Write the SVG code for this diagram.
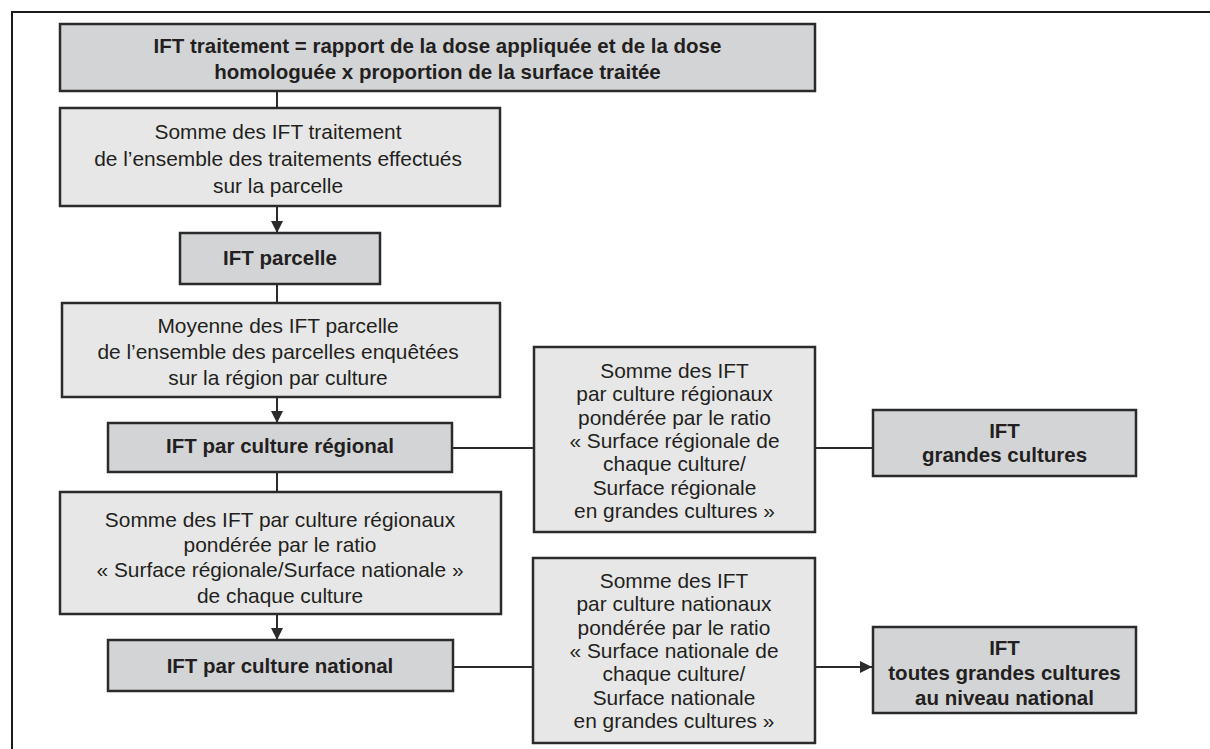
<svg xmlns="http://www.w3.org/2000/svg" width="1210" height="749" viewBox="0 0 1210 749">
  <style>
    .dark { fill: #d3d4d6; stroke: #2b2b2b; stroke-width: 2.5; }
    .light { fill: #e7e7e7; stroke: #2b2b2b; stroke-width: 2.5; }
    .t { font-family: "Liberation Sans", Arial, sans-serif; font-size: 20.9px; fill: #231f20; text-anchor: middle; }
    .b { font-weight: bold; font-size: 20.5px; }
    .link { stroke: #2b2b2b; stroke-width: 2; fill: none; }
    .frame { stroke: #1a1a1a; stroke-width: 2; fill: none; }
  </style>
  <defs>
    <marker id="arrow" viewBox="0 0 10 10" refX="10" refY="5" markerWidth="6" markerHeight="6" markerUnits="strokeWidth" orient="auto">
      <path d="M0,0 L10,5 L0,10 Z" fill="#2b2b2b"/>
    </marker>
  </defs>

  <rect width="1210" height="749" fill="#ffffff"/>
  <!-- open frame: top and left edges only -->
  <path class="frame" d="M12,749 L12,12 L1210,12"/>

  <g id="connectors">
    <line class="link" x1="277" y1="91" x2="277" y2="108"/>
    <line class="link" x1="277" y1="206" x2="277" y2="233" marker-end="url(#arrow)"/>
    <line class="link" x1="277" y1="284" x2="277" y2="303"/>
    <line class="link" x1="277" y1="397" x2="277" y2="423" marker-end="url(#arrow)"/>
    <line class="link" x1="277" y1="472" x2="277" y2="492"/>
    <line class="link" x1="277" y1="614" x2="277" y2="640" marker-end="url(#arrow)"/>
    <line class="link" x1="452" y1="448" x2="534" y2="448"/>
    <line class="link" x1="815" y1="448" x2="873" y2="448"/>
    <line class="link" x1="453" y1="667" x2="533" y2="667"/>
    <line class="link" x1="815" y1="667" x2="872" y2="667" marker-end="url(#arrow)"/>
  </g>

  <g id="ift-traitement">
    <rect class="dark" x="60" y="24" width="755" height="67"/>
    <text class="t b" x="437.5" y="53">IFT traitement = rapport de la dose appliquée et de la dose</text>
    <text class="t b" x="437.5" y="79">homologuée x proportion de la surface traitée</text>
  </g>

  <g id="somme-traitements">
    <rect class="light" x="60" y="108" width="440" height="98"/>
    <text class="t" x="278" y="139">Somme des IFT traitement</text>
    <text class="t" x="278" y="166">de l’ensemble des traitements effectués</text>
    <text class="t" x="278" y="193">sur la parcelle</text>
  </g>

  <g id="ift-parcelle">
    <rect class="dark" x="180" y="233" width="200" height="51"/>
    <text class="t b" x="280" y="265">IFT parcelle</text>
  </g>

  <g id="moyenne-parcelles">
    <rect class="light" x="62" y="303" width="438" height="94"/>
    <text class="t" x="278" y="333">Moyenne des IFT parcelle</text>
    <text class="t" x="278" y="359">de l’ensemble des parcelles enquêtées</text>
    <text class="t" x="278" y="385">sur la région par culture</text>
  </g>

  <g id="ift-culture-regional">
    <rect class="dark" x="108" y="423" width="344" height="49"/>
    <text class="t b" x="280" y="453">IFT par culture régional</text>
  </g>

  <g id="somme-regionaux-national">
    <rect class="light" x="60" y="492" width="441" height="122"/>
    <text class="t" x="280" y="527">Somme des IFT par culture régionaux</text>
    <text class="t" x="280" y="552">pondérée par le ratio</text>
    <text class="t" x="280" y="577">« Surface régionale/Surface nationale »</text>
    <text class="t" x="280" y="603">de chaque culture</text>
  </g>

  <g id="ift-culture-national">
    <rect class="dark" x="108" y="640" width="345" height="51"/>
    <text class="t b" x="280" y="673">IFT par culture national</text>
  </g>

  <g id="ponderation-regionale">
    <rect class="light" x="534" y="347" width="281" height="185"/>
    <text class="t" x="674.5" y="378">Somme des IFT</text>
    <text class="t" x="674.5" y="401.3">par culture régionaux</text>
    <text class="t" x="674.5" y="424.6">pondérée par le ratio</text>
    <text class="t" x="674.5" y="447.9">« Surface régionale de</text>
    <text class="t" x="674.5" y="471.2">chaque culture/</text>
    <text class="t" x="674.5" y="494.5">Surface régionale</text>
    <text class="t" x="674.5" y="517.8">en grandes cultures »</text>
  </g>

  <g id="ift-grandes-cultures">
    <rect class="dark" x="873" y="410" width="263" height="66"/>
    <text class="t b" x="1004.5" y="438">IFT</text>
    <text class="t b" x="1004.5" y="462">grandes cultures</text>
  </g>

  <g id="ponderation-nationale">
    <rect class="light" x="533" y="558" width="282" height="185"/>
    <text class="t" x="674" y="588">Somme des IFT</text>
    <text class="t" x="674" y="611.3">par culture nationaux</text>
    <text class="t" x="674" y="634.6">pondérée par le ratio</text>
    <text class="t" x="674" y="657.9">« Surface nationale de</text>
    <text class="t" x="674" y="681.2">chaque culture/</text>
    <text class="t" x="674" y="704.5">Surface nationale</text>
    <text class="t" x="674" y="727.8">en grandes cultures »</text>
  </g>

  <g id="ift-toutes-grandes-cultures">
    <rect class="dark" x="873" y="627" width="263" height="86"/>
    <text class="t b" x="1004.5" y="655">IFT</text>
    <text class="t b" x="1004.5" y="680">toutes grandes cultures</text>
    <text class="t b" x="1004.5" y="705">au niveau national</text>
  </g>
</svg>
